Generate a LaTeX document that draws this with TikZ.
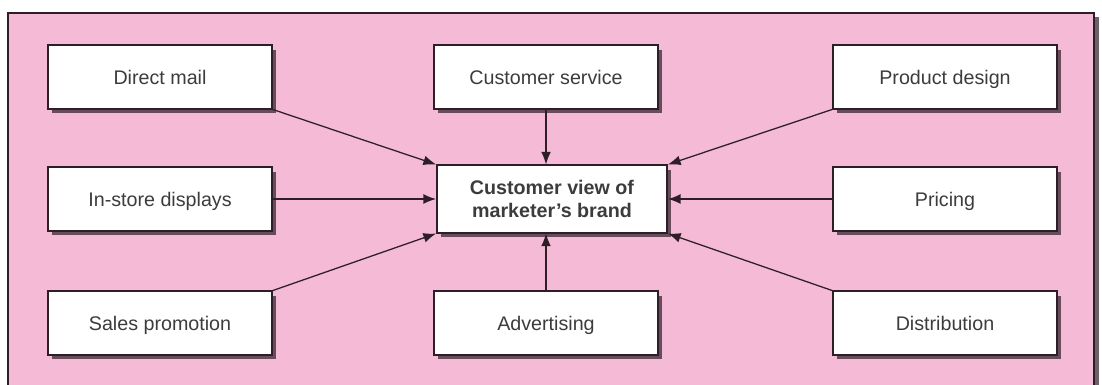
\documentclass[tikz,border=0pt]{standalone}
\usepackage{fontspec}
\setmainfont{Liberation Sans}
\usetikzlibrary{arrows.meta,shadows}
\definecolor{bgpink}{RGB}{244,186,214}
\definecolor{txtgray}{RGB}{60,60,60}
\definecolor{linedark}{RGB}{45,30,40}

\tikzset{
  factor/.style={draw=linedark, line width=1.3pt, fill=white,
    minimum width=5.6cm, minimum height=1.58cm, text=txtgray,
    text height=12pt, text depth=2pt,
    font=\fontsize{14}{17}\selectfont,
    general shadow={shadow xshift=3pt, shadow yshift=-3pt,
      fill=linedark, opacity=0.7}},
  brandbox/.style={factor, minimum width=5.75cm, minimum height=1.68cm,
    text height=, text depth=,
    align=center, font=\fontsize{14}{16}\selectfont\bfseries},
  feed/.style={draw=linedark, line width=0.9pt,
    -{Latex[length=9pt,width=7pt]}}
}

\begin{document}
\begin{tikzpicture}[x=0.025cm,y=-0.025cm]
  \clip (0,0) rectangle (1102,384);
  % frame
  \fill[linedark, opacity=0.7] (12,17) rectangle (1099,420);
  \draw[draw=linedark, line width=0.8pt, fill=bgpink] (8,13) rectangle (1094,420);

  % centre
  \node[brandbox] (brand) at (552,199) {Customer view of\\marketer’s brand};

  % left column
  \node[factor] (mail)    at (160,77)  {Direct mail};
  \node[factor] (display) at (160,199) {In-store displays};
  \node[factor] (promo)   at (160,323) {Sales promotion};

  % middle column
  \node[factor] (service) at (546,77)  {Customer service};
  \node[factor] (advert)  at (546,323) {Advertising};

  % right column
  \node[factor] (design)  at (945,77)  {Product design};
  \node[factor] (pricing) at (945,199) {Pricing};
  \node[factor] (distrib) at (945,323) {Distribution};

  % arrows into the brand box
  \draw[feed] (mail.south east)    -- (brand.north west);
  \draw[feed] (display.east)       -- (brand.west);
  \draw[feed] (promo.north east)   -- (brand.south west);
  \draw[feed] (service.south)      -- (service.south |- brand.north);
  \draw[feed] (advert.north)       -- (advert.north |- brand.south);
  \draw[feed] (design.south west)  -- (brand.north east);
  \draw[feed] (pricing.west)       -- (brand.east);
  \draw[feed] (distrib.north west) -- (brand.south east);
\end{tikzpicture}
\end{document}
